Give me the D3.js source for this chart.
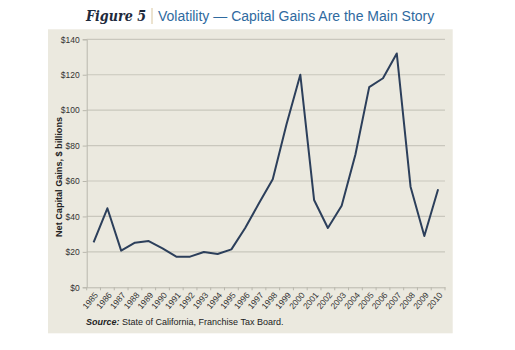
<!DOCTYPE html>
<html><head><meta charset="utf-8">
<script src="https://cdn.jsdelivr.net/npm/d3@7"></script>
<style>
body{margin:0;background:#fff;}
svg{display:block;}
</style></head>
<body>
<svg id="c" width="515" height="350"></svg>
<script>
const years = ["1985","1986","1987","1988","1989","1990","1991","1992","1993","1994","1995","1996","1997","1998","1999","2000","2001","2002","2003","2004","2005","2006","2007","2008","2009","2010"];
const gains = [25.4,44.6,20.7,25.2,26.1,22,17.3,17.3,19.9,18.8,21.4,33.5,47.4,61,92,120,49.3,33.5,46,75,113,118,132,56.8,29,55.3];
const yTicks = [0,20,40,60,80,100,120,140];

const svg = d3.select("#c");
const m = {l:86.7, r:445, t:39.3, b:287.3};
const sans = "'Liberation Sans', Arial, sans-serif";

svg.append("rect").attr("x",48).attr("y",29.3).attr("width",404.7).attr("height",304).attr("fill","#ebe9df");

const x = d3.scalePoint().domain(years).range([m.l, m.r]).padding(0.5);
const xb = d3.scaleBand().domain(years).range([m.l, m.r]);
const y = d3.scaleLinear().domain([0,140]).range([m.b, m.t]);

// gridlines
svg.append("g").selectAll("line").data(yTicks.filter(d=>d>0)).join("line")
  .attr("x1",m.l).attr("x2",m.r).attr("y1",d=>y(d)).attr("y2",d=>y(d))
  .attr("stroke","#c9c7bd").attr("stroke-width",1.2);

// y axis
const ya = svg.append("g").attr("transform",`translate(${m.l},0)`)
  .call(d3.axisLeft(y).tickValues(yTicks).tickSize(4).tickPadding(3).tickFormat(d=>"$"+d));
ya.select(".domain").attr("stroke","#b9b7ad");
ya.selectAll(".tick line").attr("stroke","#b9b7ad");
ya.selectAll("text").attr("font-family",sans).attr("font-size",8.5).attr("fill","#333");

// x axis
const xa = svg.append("g").attr("transform",`translate(0,${m.b})`)
  .call(d3.axisBottom(xb).tickSize(0).tickPadding(0));
xa.select(".domain").attr("stroke","#b9b7ad");
xa.selectAll(".tick text")
  .attr("font-family",sans).attr("font-size",8.5).attr("fill","#333")
  .attr("text-anchor","end").attr("dy",0)
  .attr("transform","translate(5,8) rotate(-50)");
// boundary ticks
svg.append("g").selectAll("line").data(years.concat(["end"])).join("line")
  .attr("x1",(d,i)=>m.l + i*xb.bandwidth()).attr("x2",(d,i)=>m.l + i*xb.bandwidth())
  .attr("y1",m.b).attr("y2",m.b+3).attr("stroke","#b9b7ad");

// line
svg.append("path").datum(gains)
  .attr("d", d3.line().x((d,i)=>x(years[i])).y(d=>y(d)))
  .attr("fill","none").attr("stroke","#2c3f5b").attr("stroke-width",2).attr("stroke-linejoin","round");

// y title
svg.append("text").attr("transform","translate(62,177) rotate(-90)")
  .attr("text-anchor","middle").attr("font-family",sans)
  .attr("font-weight","bold").attr("font-size",9).attr("fill","#222")
  .attr("textLength",120).attr("lengthAdjust","spacingAndGlyphs")
  .text("Net Capital Gains, $ billions");

// title
svg.append("text").attr("x",86).attr("y",21).attr("font-family","'DejaVu Serif', serif").attr("font-weight","bold").attr("font-style","italic").attr("fill","#1e2a3c").attr("font-size",14.5)
  .attr("textLength",60).attr("lengthAdjust","spacingAndGlyphs").text("Figure 5");
svg.append("line").attr("x1",152).attr("x2",152).attr("y1",8).attr("y2",24).attr("stroke","#d9c7a0").attr("stroke-width",1);
svg.append("text").attr("x",158).attr("y",21).attr("font-family",sans).attr("font-size",14).attr("fill","#2f6aa0")
  .text("Volatility \u2014 Capital Gains Are the Main Story");

// source
const s = svg.append("text").attr("x",86).attr("y",325).attr("font-family",sans).attr("font-size",9).attr("fill","#222");
s.append("tspan").attr("font-weight","bold").attr("font-style","italic").text("Source:");
s.append("tspan").text(" State of California, Franchise Tax Board.");
</script>
</body></html>
